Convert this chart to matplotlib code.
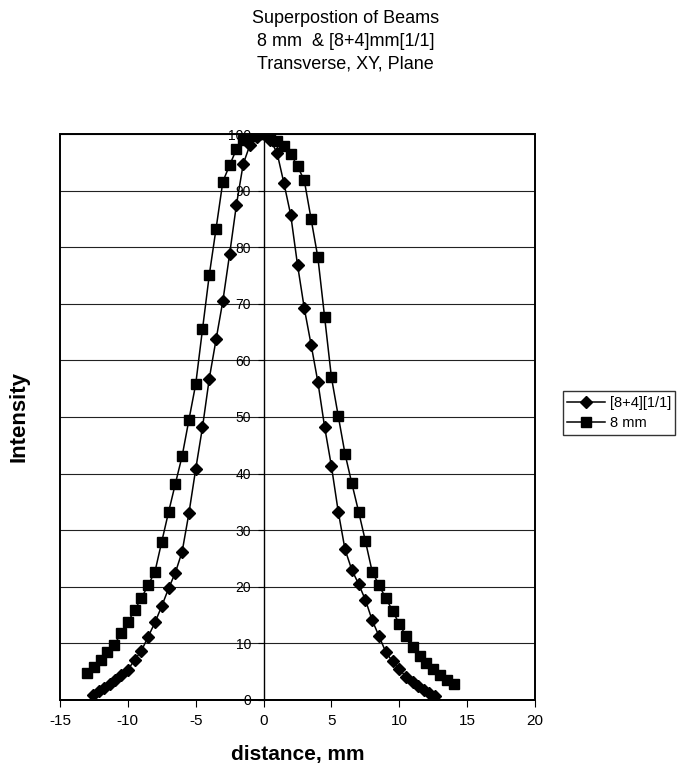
import matplotlib
matplotlib.use("Agg")
import matplotlib.pyplot as plt
from matplotlib.patches import Rectangle

plt.rcParams['font.family'] = ['Liberation Sans', 'DejaVu Sans']

# [8+4][1/1] series (diamonds)
x_combo = [-12.55, -12.15, -11.75, -11.35, -10.95, -10.5, -10.0, -9.5, -9.0, -8.5,
           -8.0, -7.5, -7.0, -6.5, -6.0, -5.5, -5.0, -4.5, -4.0, -3.5,
           -3.0, -2.5, -2.0, -1.5, -1.0, -0.5, 0.0, 0.5, 1.0, 1.5,
           2.0, 2.5, 3.0, 3.5, 4.0, 4.5, 5.0, 5.5, 6.0, 6.5,
           7.0, 7.5, 8.0, 8.5, 9.0, 9.5, 10.0, 10.5, 11.0, 11.4,
           11.8, 12.2, 12.6]
y_combo = [0.9, 1.5, 2.1, 2.8, 3.6, 4.4, 5.3, 7.1, 8.7, 11.2,
           13.7, 16.6, 19.7, 22.5, 26.2, 33.0, 40.8, 48.2, 56.8, 63.7,
           70.5, 78.8, 87.5, 94.7, 98.1, 99.5, 100.0, 99.0, 96.6, 91.3,
           85.7, 76.9, 69.2, 62.8, 56.2, 48.2, 41.3, 33.3, 26.6, 23.0,
           20.5, 17.7, 14.1, 11.3, 8.5, 6.8, 5.4, 4.1, 3.2, 2.5,
           1.8, 1.2, 0.7]

# 8 mm series (squares)
x_8mm = [-13.0, -12.5, -12.0, -11.5, -11.0, -10.5, -10.0, -9.5, -9.0, -8.5,
         -8.0, -7.5, -7.0, -6.5, -6.0, -5.5, -5.0, -4.5, -4.0, -3.5,
         -3.0, -2.5, -2.0, -1.5, -1.0, -0.5, 0.0, 0.5, 1.0, 1.5,
         2.0, 2.5, 3.0, 3.5, 4.0, 4.5, 5.0, 5.5, 6.0, 6.5,
         7.0, 7.5, 8.0, 8.5, 9.0, 9.5, 10.0, 10.5, 11.0, 11.5,
         12.0, 12.5, 13.0, 13.5, 14.0]
y_8mm = [4.7, 5.9, 7.1, 8.4, 9.7, 11.8, 13.7, 15.9, 18.0, 20.3,
         22.7, 28.0, 33.2, 38.2, 43.1, 49.5, 55.8, 65.5, 75.1, 83.3,
         91.6, 94.5, 97.3, 99.0, 99.6, 100.0, 100.0, 99.6, 98.8, 97.8,
         96.5, 94.3, 91.8, 85.0, 78.2, 67.6, 57.0, 50.2, 43.5, 38.3,
         33.3, 28.1, 22.7, 20.3, 18.0, 15.8, 13.4, 11.3, 9.4, 7.7,
         6.5, 5.4, 4.4, 3.5, 2.9]

x_ticks = [-15, -10, -5, 0, 5, 10, 15, 20]
y_ticks = [0, 10, 20, 30, 40, 50, 60, 70, 80, 90, 100]

title_lines = ["Superpostion of Beams", "8 mm  & [8+4]mm[1/1]", "Transverse, XY, Plane"]

fig = plt.figure(figsize=(6.84, 7.72), dpi=100)
ax = fig.add_axes([0.0877, 0.0933, 0.6945, 0.7331])

ax.plot(x_combo, y_combo, color='black', lw=1.1, marker='D', ms=6,
        markerfacecolor='black', markeredgecolor='black', label='[8+4][1/1]', zorder=3)
ax.plot(x_8mm, y_8mm, color='black', lw=1.1, marker='s', ms=7.5,
        markerfacecolor='black', markeredgecolor='black', label='8 mm', zorder=3)

ax.set_xlim(-15, 20)
ax.set_ylim(0, 100)
ax.set_xticks(x_ticks)
ax.set_yticks(y_ticks)
ax.set_xticklabels([str(v) for v in x_ticks], fontsize=11)
ax.set_yticklabels([str(v) for v in y_ticks], fontsize=11)

ax.yaxis.grid(True, color='#222222', lw=0.8)
ax.set_axisbelow(True)

ax.spines['left'].set_position(('data', 0))
ax.spines['right'].set_visible(False)
ax.spines['top'].set_visible(False)
ax.spines['left'].set_linewidth(1.0)
ax.spines['bottom'].set_linewidth(1.2)
ax.tick_params(axis='y', direction='out', length=4, pad=5)
ax.tick_params(axis='x', direction='out', length=5, pad=5)

# plot-area frame
ax.add_patch(Rectangle((0, 0), 1, 1, transform=ax.transAxes, fill=False,
                       edgecolor='black', lw=1.4, clip_on=False, zorder=4))

ax.set_xlabel('distance, mm', fontsize=15, fontweight='bold', labelpad=12)
ax.set_ylabel('Intensity', fontsize=16, fontweight='bold')
ax.yaxis.set_label_coords(-0.065, 0.5, transform=ax.transAxes)

fig.text(0.505, 0.987, "\n".join(title_lines), ha='center', va='top',
         fontsize=13, linespacing=1.45)

leg = fig.legend(loc='upper left', bbox_to_anchor=(0.823, 0.493), fontsize=10.5,
                 frameon=True, fancybox=False, edgecolor='black', handlelength=2.6,
                 borderpad=0.3, labelspacing=0.45, handletextpad=0.3, borderaxespad=0)
leg.get_frame().set_linewidth(1.0)
for h in leg.legend_handles:
    h.set_markersize(6.5)

fig.savefig('out.png', dpi=100)
